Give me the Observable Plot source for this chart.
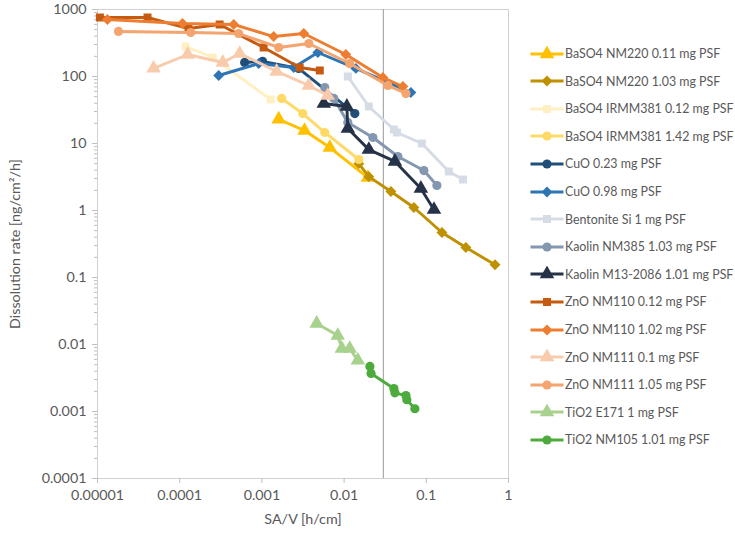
<!DOCTYPE html>
<html><head><meta charset="utf-8">
<script src="https://cdn.jsdelivr.net/npm/d3@7"></script>
<script src="https://cdn.jsdelivr.net/npm/@observablehq/plot@0.6"></script>
<style>
html,body{margin:0;padding:0;background:#fff;}
#wrap{position:relative;width:735px;height:535px;font-family:Lato,"Open Sans",sans-serif;}
.row{position:absolute;left:530px;height:16px;display:flex;align-items:center;font-size:12.4px;color:#595959;white-space:nowrap;}
.row svg{display:block;margin-right:1px;}
</style></head><body>
<div id="wrap"><div id="chart"></div><div id="legend"></div></div>
<script>
// ---- data ----
const seriesNames = ["BaSO4 NM220 0.11 mg PSF","BaSO4 NM220 1.03 mg PSF","BaSO4 IRMM381 0.12 mg PSF","BaSO4 IRMM381 1.42 mg PSF","CuO 0.23 mg PSF","CuO 0.98 mg PSF","Bentonite Si 1 mg PSF","Kaolin NM385 1.03 mg PSF","Kaolin M13-2086 1.01 mg PSF","ZnO NM110 0.12 mg PSF","ZnO NM110 1.02 mg PSF","ZnO NM111 0.1 mg PSF","ZnO NM111 1.05 mg PSF","TiO2 E171 1 mg PSF","TiO2 NM105 1.01 mg PSF"];

const savBaSO4NM220_011 = [0.0016, 0.0033, 0.0067, 0.0195];
const rateBaSO4NM220_011 = [23, 15.6, 8.7, 3.1];
const savBaSO4NM220_103 = [0.0151, 0.020, 0.0371, 0.0706, 0.155, 0.303, 0.686];
const rateBaSO4NM220_103 = [5.0, 3.2, 1.92, 1.11, 0.47, 0.28, 0.155];
const savBaSO4IRMM381_012 = [0.000118, 0.000252, 0.00128];
const rateBaSO4IRMM381_012 = [281, 192, 45.4];
const savBaSO4IRMM381_142 = [0.00174, 0.00314, 0.00582, 0.0151];
const rateBaSO4IRMM381_142 = [47, 28, 14.6, 5.77];
const savCuO_023 = [0.000617, 0.00102, 0.0028, 0.0135];
const rateCuO_023 = [162, 168, 132, 28];
const savCuO_098 = [0.000298, 0.000914, 0.00244, 0.00479, 0.0139, 0.0649];
const rateCuO_098 = [103.5, 156, 136, 228, 132, 57.7];
const savBentonite = [0.0111, 0.020, 0.0403, 0.0439, 0.0883, 0.188, 0.279];
const rateBentonite = [100, 35.7, 16.2, 14.6, 10, 3.82, 2.9];
const savKaolinNM385 = [0.00582, 0.0075, 0.0111, 0.0224, 0.0451, 0.0935, 0.1346];
const rateKaolinNM385 = [68.5, 47, 20.6, 12.3, 6.4, 3.95, 2.36];
const savKaolinM13 = [0.00566, 0.0108, 0.0111, 0.020, 0.0415, 0.0859, 0.124];
const rateKaolinM13 = [39.5, 35.7, 16.7, 8.1, 5.4, 2.13, 1.03];
const savZnONM110_012 = [0.0000107, 0.0000406, 0.000128, 0.000306, 0.00105, 0.00288, 0.00506];
const rateZnONM110_012 = [760, 760, 520, 597, 271, 136, 123];
const savZnONM110_102 = [0.0000132, 0.000108, 0.000454, 0.00139, 0.00323, 0.0105, 0.0296, 0.0519];
const rateZnONM110_102 = [709, 618, 597, 395, 438, 213, 96.6, 71];
const savZnONM111_01 = [0.0000481, 0.000125, 0.000334, 0.000537, 0.00151, 0.00372, 0.00632];
const rateZnONM111_01 = [132, 213, 162, 220, 119, 73.4, 52];
const savZnONM111_105 = [0.000018, 0.000136, 0.000521, 0.0016, 0.00372, 0.0117, 0.034, 0.0565];
const rateZnONM111_105 = [470, 454, 438, 271, 311, 156, 73.4, 55.7];
const savTiO2E171 = [0.00464, 0.00837, 0.00938, 0.0117, 0.0147];
const rateTiO2E171 = [0.0206, 0.0136, 0.0087, 0.0087, 0.0058];
const savTiO2NM105 = [0.0206, 0.0213, 0.0403, 0.0415, 0.0565, 0.058, 0.0726];
const rateTiO2NM105 = [0.0047, 0.0037, 0.0022, 0.0019, 0.00173, 0.0015, 0.0011];

const refLineX = [0.03];
const xTicks = [0.00001, 0.0001, 0.001, 0.01, 0.1, 1];
const xTickLabels = ["0.00001", "0.0001", "0.001", "0.01", "0.1", "1"];
const yTicks = [0.0001, 0.001, 0.01, 0.1, 1, 10, 100, 1000];
const yTickLabels = ["0.0001", "0.001", "0.01", "0.1", "1", "10", "100", "1000"];
const xTitle = "SA/V [h/cm]";
const yTitle = "Dissolution rate [ng/cm²/h]";

// ---- styles ----
const colors = ["#FFC000","#BF9000","#FFF0C4","#FFD966","#1F4E79","#2E75B6","#D6DCE5","#8497B0","#263248","#C55A11","#ED7D31","#F8CBAD","#F4A46E","#A9D18E","#4CAB3C"];
const symbols = ["triangle","diamond2","square","circle","circle","diamond2","square","circle","triangle","square","diamond2","triangle","circle","triangle","circle"];
const radius = {triangle: 5.4, diamond2: 4.9, square: 4.5, circle: 4.6};
const d3sym = {triangle: d3.symbolTriangle, diamond2: d3.symbolDiamond2, square: d3.symbolSquare, circle: d3.symbolCircle};

const xsList = [savBaSO4NM220_011, savBaSO4NM220_103, savBaSO4IRMM381_012, savBaSO4IRMM381_142, savCuO_023, savCuO_098, savBentonite, savKaolinNM385, savKaolinM13, savZnONM110_012, savZnONM110_102, savZnONM111_01, savZnONM111_105, savTiO2E171, savTiO2NM105];
const ysList = [rateBaSO4NM220_011, rateBaSO4NM220_103, rateBaSO4IRMM381_012, rateBaSO4IRMM381_142, rateCuO_023, rateCuO_098, rateBentonite, rateKaolinNM385, rateKaolinM13, rateZnONM110_012, rateZnONM110_102, rateZnONM111_01, rateZnONM111_105, rateTiO2E171, rateTiO2NM105];

const minorY = [];
for (let e = -4; e < 3; e++) for (let m = 2; m <= 9; m++) minorY.push(m * Math.pow(10, e));

const marks = [
  Plot.frame({stroke: "#d0d0d0"}),
  Plot.ruleX(refLineX, {stroke: "#9a9a9a", strokeWidth: 1}),
  Plot.axisY(minorY, {tickSize: 3, tickFormat: () => "", stroke: "#bfbfbf", label: null}),
  Plot.axisY(yTicks, {tickSize: 5, tickPadding: 6, stroke: "#bfbfbf", fill: "#595959",
    tickFormat: d => yTickLabels[yTicks.indexOf(d)], fontSize: 14.3,
    label: yTitle, labelAnchor: "center", labelArrow: "none", labelOffset: 88}),
  Plot.axisX(xTicks, {tickSize: 5, tickPadding: 6, stroke: "#bfbfbf", fill: "#595959",
    tickFormat: d => xTickLabels[xTicks.indexOf(d)], fontSize: 14.3,
    label: xTitle, labelAnchor: "center", labelArrow: "none", labelOffset: 45})
];

seriesNames.forEach((name, i) => {
  const rows = xsList[i].map((x, j) => ({series: name, x, y: ysList[i][j]}));
  marks.push(Plot.line(rows, {x: "x", y: "y", stroke: colors[i], strokeWidth: 2.9, strokeLinejoin: "round"}));
  marks.push(Plot.dot(rows, {x: "x", y: "y", fill: colors[i], stroke: "none", symbol: () => symbols[i], r: radius[symbols[i]]}));
});

const chart = Plot.plot({
  width: 735, height: 535,
  marginLeft: 97, marginRight: 227, marginTop: 9, marginBottom: 57,
  style: {fontFamily: "Lato, 'Open Sans', sans-serif", fontSize: "14.5px", color: "#595959", background: "#fff"},
  x: {type: "log", domain: [0.00001, 1]},
  y: {type: "log", domain: [0.0001, 1000]},
  symbol: {type: "identity"},
  marks
});
document.getElementById("chart").appendChild(chart);

// ---- legend ----
const legend = document.getElementById("legend");
seriesNames.forEach((name, i) => {
  const row = document.createElement("div");
  row.className = "row";
  row.style.top = (53.5 + 27.6 * i - 8) + "px";
  const r = radius[symbols[i]];
  const path = d3.symbol().type(d3sym[symbols[i]]).size(Math.PI * r * r)();
  row.innerHTML = `<svg width="34" height="16"><line x1="0.5" x2="33.5" y1="8" y2="8" stroke="${colors[i]}" stroke-width="2.9"/><path transform="translate(17,8)" d="${path}" fill="${colors[i]}"/></svg><span>${name}</span>`;
  legend.appendChild(row);
});
</script></body></html>
